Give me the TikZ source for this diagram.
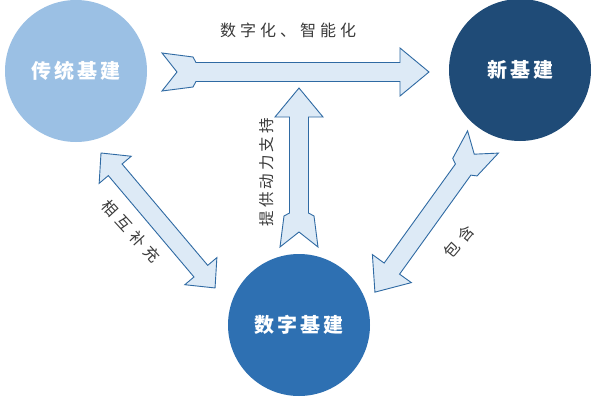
\documentclass[tikz,border=0pt]{standalone}
\usepackage{fontspec}
\newfontfamily\cjk{Noto Sans CJK SC}
\definecolor{cA}{HTML}{9BC0E4}
\definecolor{cB}{HTML}{1F4B77}
\definecolor{cC}{HTML}{2E70B2}
\definecolor{afill}{HTML}{DDEAF6}
\definecolor{aline}{HTML}{2F6AA3}
\definecolor{tgray}{HTML}{3A3A3A}
\tikzset{
  hub/.style={circle, minimum size=142pt, inner sep=0pt, text=white, font=\cjk\bfseries\fontsize{20}{20}\selectfont},
  arr/.style={fill=afill, draw=aline, line width=0.9pt, line join=miter},
  lbl/.style={text=tgray, inner sep=0pt, font=\cjk\fontsize{15.5}{15.5}\selectfont},
}
\newcommand{\fletcharrow}[3]{%
  \draw[arr, shift={(#1)}, rotate=#2] (0,19) -- (31,15) -- (34,9.5) -- (#3-29,9.5) -- (#3-29,24) -- (#3,0) -- (#3-29,-24) -- (#3-29,-9.5) -- (34,-9.5) -- (31,-15) -- (0,-19) -- (15,0) -- cycle;}
\newcommand{\dblarrow}[3]{%
  \draw[arr, shift={(#1)}, rotate=#2] (0,0) -- (22,21) -- (22,9) -- (#3-22,9) -- (#3-22,21) -- (#3,0) -- (#3-22,-21) -- (#3-22,-9) -- (22,-9) -- (22,-21) -- cycle;}
\begin{document}
\begin{tikzpicture}[x=1pt,y=1pt]
\useasboundingbox (0,0) rectangle (600,400);
\fill[white] (0,0) rectangle (600,400);
% hubs
\node[hub, fill=cA] (trad) at (76,329) {传\hspace{3pt}统\hspace{3pt}基\hspace{3pt}建};
\node[hub, fill=cB] (new) at (520,330) {新\hspace{3pt}基\hspace{3pt}建};
\node[hub, fill=cC] (digi) at (299,75) {数\hspace{3pt}字\hspace{3pt}基\hspace{3pt}建};
% arrows
\fletcharrow{162,328}{0}{267}
\fletcharrow{299,153}{90}{159}
\fletcharrow{483,258}{234.25}{185}
\dblarrow{101,247}{-49.8}{176.7}
% labels
\node[lbl, font=\cjk\fontsize{16}{16}\selectfont] (t1) at (288,370) {数\hspace{4pt}字\hspace{4pt}化\hspace{4pt}、\hspace{4pt}智\hspace{4pt}能\hspace{4pt}化};
\node[lbl, rotate=90] (t2) at (267,228) {提\hspace{3pt}供\hspace{3pt}动\hspace{3pt}力\hspace{3pt}支\hspace{3pt}持};
\node[lbl, rotate=-47.5] (t3) at (131,169) {相\hspace{5.5pt}互\hspace{5.5pt}补\hspace{5.5pt}充};
\node[lbl, rotate=50] (t4) at (459,158) {包\hspace{5.5pt}含};
\end{tikzpicture}
\end{document}
